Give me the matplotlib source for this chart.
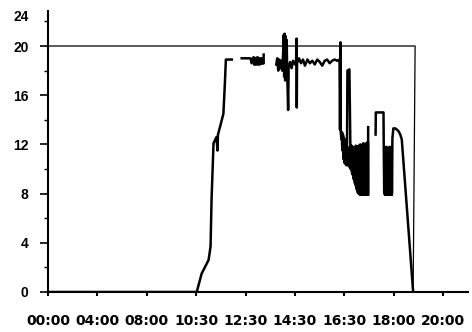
import numpy as np
import matplotlib
matplotlib.use("Agg")
import matplotlib.pyplot as plt

# x positions are in tick slots (one slot per labelled tick)
tick_labels = ['00:00', '04:00', '08:00', '10:30', '12:30', '14:30', '16:30', '18:00', '20:00']
y_ticks = [0, 4, 8, 12, 16, 20]

# set value (thin line)
set_x = [0.0, 0.0, 7.43, 7.39]
set_y = [0.0, 20.0, 20.0, 0.0]

# measured value (thick line), nan = gap in the record
meas_x = [0.0, 3.01, 3.11, 3.25, 3.29, 3.31, 3.35, 3.41, 3.43, 3.44, 3.48, 3.55, 3.58, 3.60, 3.72,
          3.80,
          3.92, 4.10, 4.12, 4.16, 4.20, 4.24, 4.28, 4.32, 4.36, 4.365,
          4.50,
          4.62, 4.64, 4.66, 4.68, 4.70, 4.72, 4.74, 4.76, 4.77, 4.78, 4.79, 4.80, 4.81, 4.82, 4.83, 4.84,
          4.86, 4.87, 4.90, 4.93, 4.96, 5.00, 5.02, 5.03, 5.035, 5.04, 5.08, 5.12, 5.16, 5.20, 5.25,
          5.30, 5.35, 5.40, 5.45, 5.50, 5.55, 5.60, 5.65, 5.70, 5.75, 5.80, 5.85, 5.90,
          5.91, 5.92, 5.925, 5.94, 5.95, 5.96, 5.97, 5.98, 5.99, 6.00, 6.01, 6.02, 6.03, 6.04, 6.05,
          6.06, 6.10, 6.12,
          6.125, 6.14, 6.155, 6.17, 6.185, 6.20, 6.215, 6.23, 6.245, 6.26, 6.275, 6.29, 6.305, 6.32,
          6.335, 6.35, 6.365, 6.38, 6.395, 6.41, 6.425, 6.44, 6.455, 6.47, 6.475, 6.48,
          6.55,
          6.63, 6.635, 6.79, 6.795, 6.805, 6.815, 6.825, 6.835, 6.845, 6.855, 6.865, 6.875, 6.885,
          6.895, 6.905, 6.915, 6.925, 6.935, 6.945, 6.955, 6.96, 6.97, 6.99, 7.03, 7.09, 7.13, 7.16, 7.39]
meas_y = [0.0, 0.0, 1.5, 2.6, 3.7, 7.5, 12.1, 12.6, 11.5, 12.8, 13.4, 14.5, 17.0, 18.9, 18.9,
          np.nan,
          19.0, 19.0, 18.6, 19.1, 18.5, 19.1, 18.5, 19.0, 18.6, 19.3,
          np.nan,
          18.5, 19.0, 18.0, 18.9, 18.2, 18.8, 18.0, 19.5, 20.9, 17.5, 21.0, 17.2, 20.8, 17.8, 20.5, 18.0,
          14.8, 18.3, 18.7, 18.2, 18.8, 18.5, 18.6, 20.6, 15.0, 18.6, 19.0, 18.6, 18.9, 18.4, 18.9,
          18.6, 18.8, 18.5, 18.9, 18.7, 18.4, 18.8, 18.9, 18.6, 18.8, 18.9, 18.8, 18.9,
          13.2, 20.3, 13.0, 12.4, 13.0, 11.5, 12.8, 10.8, 12.5, 10.5, 12.2, 10.4, 11.8, 10.3, 10.5,
          18.0, 18.1, 11.8,
          10.0, 11.9, 9.6, 11.8, 9.2, 11.7, 8.8, 11.9, 8.4, 11.8, 8.1, 11.9, 8.0, 12.0,
          7.9, 11.9, 8.0, 12.1, 7.9, 12.0, 8.0, 12.1, 7.9, 12.2, 7.9, 13.4,
          np.nan,
          12.8, 14.6, 14.6, 11.9, 8.0, 11.8, 7.9, 11.7, 8.0, 11.8, 7.9, 11.6, 8.0,
          11.7, 7.9, 11.8, 8.0, 11.7, 7.9, 11.8, 8.0, 12.5, 13.3, 13.3, 13.1, 12.8, 12.4, 0.0]

# envelopes of the densely oscillating stretches (drawn solid, as in the print)
band1_x = [5.93, 6.00, 6.06, 6.12, 6.20, 6.25, 6.30, 6.40, 6.48]
band1_hi = [13.0, 12.5, 11.8, 11.8, 11.8, 11.9, 12.0, 12.1, 12.2]
band1_lo = [12.0, 10.6, 10.3, 10.0, 8.8, 8.1, 7.9, 7.9, 7.9]
band2_x = [6.80, 6.88, 6.96]
band2_hi = [11.8, 11.7, 11.8]
band2_lo = [7.9, 7.9, 7.9]
band3_x = [4.15, 4.25, 4.36]
band3_hi = [19.1, 19.1, 19.0]
band3_lo = [18.5, 18.5, 18.6]

fig = plt.figure(figsize=(4.72, 3.32), dpi=100)
ax = fig.add_axes([0.1017, 0.1205, 0.8898, 0.8465])

ax.plot(set_x, set_y, color='black', lw=0.9)
ax.plot(meas_x, meas_y, color='black', lw=1.8)
for bx, hi, lo in [(band1_x, band1_hi, band1_lo), (band2_x, band2_hi, band2_lo),
                   (band3_x, band3_hi, band3_lo)]:
    ax.fill_between(bx, lo, hi, color='black', lw=1.0, edgecolor='black')

ax.set_xlim(0, 8.5)
ax.set_ylim(0, 22.85)

for s in ['top', 'right']:
    ax.spines[s].set_visible(False)
for s in ['left', 'bottom']:
    ax.spines[s].set_linewidth(1.5)

# the "24" label sits at the top of the axis without a tick mark
ax.set_yticks(y_ticks + [22.5], labels=[str(v) for v in y_ticks] + ['24'],
              fontfamily=['Liberation Sans', 'DejaVu Sans'], fontweight='bold', fontsize=10)
ax.yaxis.get_major_ticks()[-1].tick1line.set_visible(False)
ax.set_yticks([2, 6, 10, 14, 18, 22], minor=True)
ax.tick_params(axis='y', which='major', direction='out', length=6, width=1.2, pad=8)
ax.tick_params(axis='y', which='minor', direction='out', length=3, width=1.0)

ax.set_xticks(range(len(tick_labels)), labels=tick_labels,
              fontfamily=['Liberation Sans Narrow', 'DejaVu Sans'], fontweight='bold', fontsize=10)
ax.tick_params(axis='x', direction='out', length=3, width=1.5, pad=13)

fig.savefig('out.png', dpi=100)
